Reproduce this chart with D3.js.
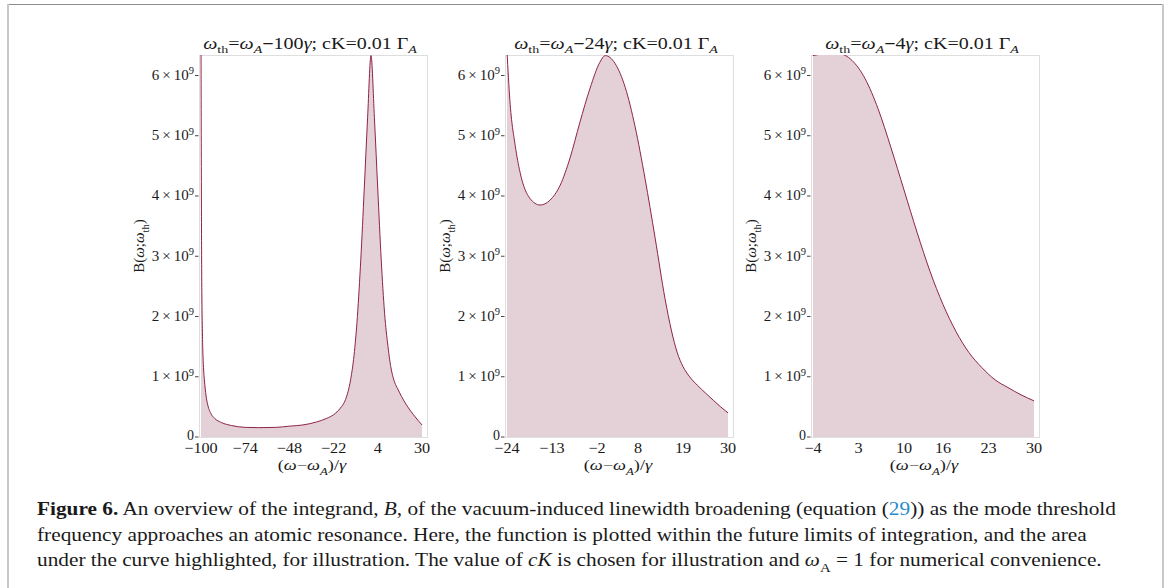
<!DOCTYPE html>
<html><head><meta charset="utf-8">
<script src="https://cdn.jsdelivr.net/npm/d3@7"></script>
<style>
body{margin:0;background:#fff}
svg{display:block}
text{font-family:"Liberation Serif","Times New Roman",serif;fill:#1a1a1a}
</style>
</head><body>
<svg id="c" width="1165" height="588"></svg>
<script>
// ---------- data ----------
const thresholdLabels = ["100", "24", "4"];
const xTicks1 = [-100, -74, -48, -22, 4, 30];
const xTicks2 = [-24, -13, -2, 8, 19, 30];
const xTicks3 = [-4, 3, 10, 16, 23, 30];
const yTicks = [0, 1e9, 2e9, 3e9, 4e9, 5e9, 6e9];

const x1 = [-100, -99.6, -99.2, -98.6, -98, -97, -96, -94, -92, -88, -82, -74, -66, -56, -48, -40, -32, -26, -22, -18, -15, -12, -10, -8, -6, -4, -2, 0, 2, 4, 6, 8, 10, 11, 12, 13, 14, 15.7, 18, 21.6, 25, 27.5, 30];
const b1 = [6.6e9, 2.8e9, 1.8e9, 1.2e9, 0.95e9, 0.68e9, 0.53e9, 0.38e9, 0.31e9, 0.24e9, 0.19e9, 0.16e9, 0.155e9, 0.16e9, 0.18e9, 0.2e9, 0.25e9, 0.31e9, 0.37e9, 0.48e9, 0.62e9, 0.95e9, 1.35e9, 2.0e9, 2.95e9, 4.1e9, 5.3e9, 6.33e9, 5.3e9, 4.1e9, 2.95e9, 2.05e9, 1.5e9, 1.28e9, 1.11e9, 0.99e9, 0.9e9, 0.8e9, 0.67e9, 0.5e9, 0.37e9, 0.28e9, 0.2e9];

const x2 = [-24, -23.3, -22, -20.8, -18.4, -15.9, -13.5, -11, -8.6, -6.2, -3.7, -1.3, 0, 2.4, 4.9, 7.3, 9.7, 12.2, 14.6, 16.2, 17.6, 19, 20.5, 22.5, 24.5, 26.4, 28.2, 30];
const b2 = [6.4e9, 5.59e9, 4.84e9, 4.39e9, 3.96e9, 3.85e9, 3.93e9, 4.18e9, 4.63e9, 5.22e9, 5.79e9, 6.22e9, 6.33e9, 6.2e9, 5.8e9, 5.15e9, 4.3e9, 3.3e9, 2.3e9, 1.76e9, 1.4e9, 1.17e9, 1.01e9, 0.86e9, 0.73e9, 0.61e9, 0.5e9, 0.4e9];

const x3 = [-4, -2, 0, 2, 4, 6, 8, 10, 12, 14, 16, 18, 20, 22, 24, 26, 28, 30];
const b3 = [6.33e9, 6.36e9, 6.36e9, 6.25e9, 5.95e9, 5.45e9, 4.8e9, 4.1e9, 3.4e9, 2.75e9, 2.2e9, 1.75e9, 1.4e9, 1.15e9, 0.95e9, 0.82e9, 0.7e9, 0.6e9];

const panels = [
  {xs: x1, bs: b1, ticks: xTicks1, th: thresholdLabels[0]},
  {xs: x2, bs: b2, ticks: xTicks2, th: thresholdLabels[1]},
  {xs: x3, bs: b3, ticks: xTicks3, th: thresholdLabels[2]}
];

// ---------- layout ----------
const svg = d3.select("#c");
const lefts = [199, 505, 811];
const frameW = 228, plotTop = 55, plotBottom = 437;
const fillCol = "#e4d0d7", lineCol = "#8e2446";

// frame of the figure
svg.append("line").attr("x1", 7).attr("x2", 1164).attr("y1", 4.5).attr("y2", 4.5).attr("stroke", "#8c8c8c").attr("stroke-width", 1);
svg.append("line").attr("x1", 8).attr("x2", 8).attr("y1", 4).attr("y2", 588).attr("stroke", "#c8c8c8").attr("stroke-width", 2);
svg.append("line").attr("x1", 1163).attr("x2", 1163).attr("y1", 4).attr("y2", 588).attr("stroke", "#c8c8c8").attr("stroke-width", 2);

function rich(sel, segs, base) {
  segs.forEach(s => {
    const t = sel.append("tspan").text(s.t);
    const fs = s.sub || s.sup ? base * 0.7 : base;
    t.attr("font-size", fs);
    if (s.i) t.attr("font-style", "italic");
    if (s.b) t.attr("font-weight", "bold");
    if (s.fill) t.style("fill", s.fill);
    if (s.sub) t.attr("dy", base * 0.3);
    if (s.sup) t.attr("dy", -base * 0.38);
    if (s.back) t.attr("dy", s.back);
  });
}
// place a text at (ax, ay) stretched horizontally by sx
function place(t, ax, ay, sx) {
  t.attr("x", 0).attr("y", 0).attr("transform", `translate(${ax},${ay}) scale(${sx},1)`);
}

let titleScale = null;
panels.forEach((p, k) => {
  const L = lefts[k];
  const g = svg.append("g");
  const x = d3.scaleLinear().domain([p.xs[0], 30]).range([L + 2, L + 223]);
  const y = d3.scaleLinear().domain([0, 6.34e9]).range([plotBottom, plotTop]);
  const cid = "clip" + k;
  svg.append("clipPath").attr("id", cid).append("rect")
    .attr("x", L).attr("y", plotTop).attr("width", frameW).attr("height", plotBottom - plotTop);

  // frame
  g.append("rect").attr("x", L + 0.5).attr("y", plotTop + 0.5).attr("width", frameW).attr("height", plotBottom - plotTop)
    .attr("fill", "none").attr("stroke", "#dedede").attr("stroke-width", 1);

  const pts = p.xs.map((v, i) => [v, p.bs[i]]);
  const area = d3.area().x(d => x(d[0])).y0(y(0)).y1(d => y(d[1])).curve(d3.curveMonotoneX);
  const line = d3.line().x(d => x(d[0])).y(d => y(d[1])).curve(d3.curveMonotoneX);
  const pg = g.append("g").attr("clip-path", `url(#${cid})`);
  pg.append("path").attr("d", area(pts)).attr("fill", fillCol);
  pg.append("path").attr("d", line(pts)).attr("fill", "none").attr("stroke", lineCol).attr("stroke-width", 1);

  // y axis ticks
  yTicks.forEach(v => {
    const yy = y(v);
    g.append("line").attr("x1", L - 4).attr("x2", L - 0.5).attr("y1", yy).attr("y2", yy).attr("stroke", "#444").attr("stroke-width", 1);
    const t = g.append("text").attr("x", L - 5).attr("y", v === 0 ? yy + 2.5 : yy + 4.5).attr("text-anchor", "end").attr("font-size", v === 0 ? 14 : 15);
    if (v === 0) t.text("0");
    else rich(t, [{t: String(v / 1e9) + "\u2009×\u200910"}, {t: "9", sup: true}], 15);
  });

  // x tick labels
  p.ticks.forEach(v => {
    const t = g.append("text").attr("text-anchor", "middle").attr("font-size", 15)
      .text(v < 0 ? "\u2212" + Math.abs(v) : String(v));
    place(t, x(v), 453, 1.08);
  });

  const cx = L + frameW / 2 - 1;
  // x label
  const xl = g.append("text").attr("text-anchor", "middle");
  rich(xl, [{t: "("}, {t: "ω", i: true}, {t: "\u2212"}, {t: "ω", i: true}, {t: "A", i: true, sub: true}, {t: ")/", back: -4.5}, {t: "γ", i: true}], 15);
  const xw = xl.node().getBBox().width;
  place(xl, cx, 470, 70 / xw);

  // y label
  const yl = g.append("text").attr("transform", `translate(${L - 55},246) rotate(-90)`).attr("text-anchor", "middle");
  rich(yl, [{t: "B("}, {t: "ω", i: true}, {t: ";"}, {t: "ω", i: true}, {t: "th", sub: true}, {t: ")", back: -4.5}], 15);

  // title
  const tt = g.append("text").attr("text-anchor", "middle");
  rich(tt, [{t: "ω", i: true}, {t: "th", sub: true}, {t: "=", back: -4.8}, {t: "ω", i: true}, {t: "A", i: true, sub: true},
            {t: "\u2212", b: true, back: -4.8}, {t: p.th}, {t: "γ", i: true}, {t: "; cK=0.01 Γ"}, {t: "A", i: true, sub: true}], 16);
  if (titleScale === null) titleScale = 214 / tt.node().getBBox().width;
  place(tt, cx - 2, 48.5, titleScale);
});

// caption
const capLines = [
  [{t: "Figure 6.", b: true}, {t: " An overview of the integrand, "}, {t: "B", i: true}, {t: ", of the vacuum-induced linewidth broadening (equation ("}, {t: "29", fill: "#2a8ccc"}, {t: ")) as the mode threshold"}],
  [{t: "frequency approaches an atomic resonance. Here, the function is plotted within the future limits of integration, and the area"}],
  [{t: "under the curve highlighted, for illustration. The value of "}, {t: "cK", i: true}, {t: " is chosen for illustration and "}, {t: "ω", i: true}, {t: "A", sub: true}, {t: " = 1 for numerical convenience.", back: -5.5}]
];
const capY = [515, 540.5, 566];
let capScale = null;
capLines.forEach((segs, i) => {
  const t = svg.append("text");
  rich(t, segs, 18.5);
  if (capScale === null) capScale = 1081 / t.node().getBBox().width;
  place(t, 37, capY[i], capScale);
});
</script>
</body></html>
